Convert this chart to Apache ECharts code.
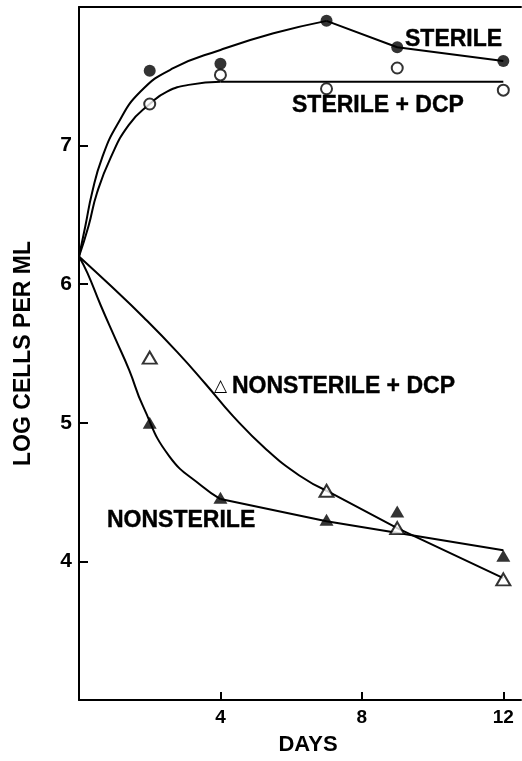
<!DOCTYPE html>
<html>
<head>
<meta charset="utf-8">
<title>Log cells per ml</title>
<script src="https://cdn.jsdelivr.net/npm/echarts@6/dist/echarts.min.js"></script>
<style>
html, body { margin: 0; padding: 0; background: #fff; }
#chart { width: 522px; height: 761px; }
</style>
</head>
<body>
<div id="chart"></div>
<script>
// fitted curves (smooth part, then straight tail)
var sterileCurve = [[0, 6.2], [0.18, 6.42], [0.37, 6.66], [0.65, 6.91], [1.08, 7.15], [1.74, 7.39], [2.68, 7.56], [4, 7.69], [5.5, 7.81], [7, 7.9]]
var sterileTail = [[7, 7.9], [9, 7.71], [12, 7.61]]
var dcpCurve = [[0, 6.2], [0.27, 6.42], [0.51, 6.66], [0.89, 6.91], [1.41, 7.15], [2, 7.3], [2.49, 7.39], [3.15, 7.44], [4, 7.46]]
var dcpTail = [[4, 7.46], [12, 7.46]]
var nsDcpCurve = [[0, 6.2], [0.89, 5.99], [1.83, 5.76], [2.78, 5.51], [3.58, 5.28], [4.35, 5.05], [5.29, 4.81], [6.23, 4.62], [7, 4.51]]
var nsDcpTail = [[7, 4.51], [9, 4.24], [12, 3.88]]
var nsCurve = [[0, 6.2], [0.24, 6.08], [0.61, 5.85], [1.04, 5.6], [1.42, 5.38], [1.81, 5.12], [2.55, 4.76], [3.49, 4.54], [4, 4.45]]
var nsTail = [[4, 4.45], [7, 4.29], [12, 4.08]]

// measured points
var sterilePts = [[2, 7.54], [4, 7.59], [7, 7.9], [9, 7.71], [12, 7.61]]
var dcpPts = [[2, 7.3], [4, 7.51], [7, 7.41], [9, 7.56], [12, 7.4]]
var nsDcpPts = [[2, 5.47], [7, 4.51], [9, 4.24], [12, 3.87]]
var nsPts = [[2, 5.0], [4, 4.46], [7, 4.3], [9, 4.36], [12, 4.04]]

var xTicks = [4, 8, 12]
var yTicks = [4, 5, 6, 7]

var FONT = '"Liberation Sans", Arial, Helvetica, sans-serif'
var chart = echarts.init(document.getElementById('chart'))

function curve(data, smooth) {
    return {
        type: 'line',
        data: data,
        smooth: smooth ? 0.5 : false,
        showSymbol: false,
        lineStyle: { color: '#000', width: 2 },
        silent: true
    }
}

function points(data, symbol, filled, size) {
    return {
        type: 'scatter',
        data: data,
        symbol: symbol,
        symbolSize: size,
        itemStyle: {
            color: filled ? '#000' : '#fff',
            borderColor: '#000',
            borderWidth: filled ? 0 : 2
        },
        z: 5
    }
}

function label(text, x, y) {
    return {
        type: 'text',
        x: x,
        y: y,
        style: {
            text: text,
            fill: '#000',
            stroke: '#000',
            lineWidth: 0.4,
            font: 'bold 23px ' + FONT,
            verticalAlign: 'middle'
        }
    }
}

chart.setOption({
    animation: false,
    backgroundColor: '#fff',
    grid: { left: 79, right: 1, top: 7, bottom: 61 },
    xAxis: [{
        type: 'value',
        min: 0,
        max: 12.5,
        name: 'DAYS',
        nameLocation: 'middle',
        nameGap: 34,
        nameTextStyle: { fontFamily: FONT, fontWeight: 'bold', fontSize: 22, color: '#000', padding: [0, 0, 0, 16] },
        axisLine: { show: true, lineStyle: { color: '#000', width: 2 } },
        axisTick: { show: true, inside: true, length: 8, customValues: xTicks, lineStyle: { color: '#000', width: 2 } },
        axisLabel: { customValues: xTicks, fontFamily: FONT, fontWeight: 'bold', fontSize: 19, color: '#000', margin: 8 },
        splitLine: { show: false }
    }, {
        // top frame line
        type: 'value',
        position: 'top',
        min: 0,
        max: 12.5,
        axisLine: { show: true, lineStyle: { color: '#000', width: 2 } },
        axisTick: { show: false },
        axisLabel: { show: false },
        splitLine: { show: false }
    }],
    yAxis: {
        type: 'value',
        min: 3,
        max: 8,
        interval: 1,
        name: 'LOG CELLS PER ML',
        nameLocation: 'middle',
        nameGap: 44,
        nameRotate: 90,
        nameTextStyle: { fontFamily: FONT, fontWeight: 'bold', fontSize: 23, color: '#000' },
        axisLine: { show: true, lineStyle: { color: '#000', width: 2 } },
        axisTick: { show: true, inside: true, length: 9, customValues: yTicks, lineStyle: { color: '#000', width: 2 } },
        axisLabel: { customValues: yTicks, fontFamily: FONT, fontWeight: 'bold', fontSize: 21, color: '#000', margin: 7 },
        splitLine: { show: false }
    },
    series: [
        curve(sterileCurve, true),
        curve(sterileTail, false),
        curve(dcpCurve, true),
        curve(dcpTail, false),
        curve(nsDcpCurve, true),
        curve(nsDcpTail, false),
        curve(nsCurve, true),
        curve(nsTail, false),
        points(sterilePts, 'circle', true, 12),
        points(dcpPts, 'circle', false, 11),
        points(nsDcpPts, 'triangle', false, [14, 12]),
        points(nsPts, 'triangle', true, [14, 12])
    ],
    graphic: [
        label('STERILE', 405, 40),
        label('STERILE + DCP', 292, 106),
        {
            type: 'text',
            x: 214,
            y: 387,
            style: { text: '\u25B3', fill: '#000', font: '17px "DejaVu Sans", sans-serif', verticalAlign: 'middle' }
        },
        label('NONSTERILE + DCP', 232, 387),
        label('NONSTERILE', 107, 521)
    ]
})
</script>
</body>
</html>
